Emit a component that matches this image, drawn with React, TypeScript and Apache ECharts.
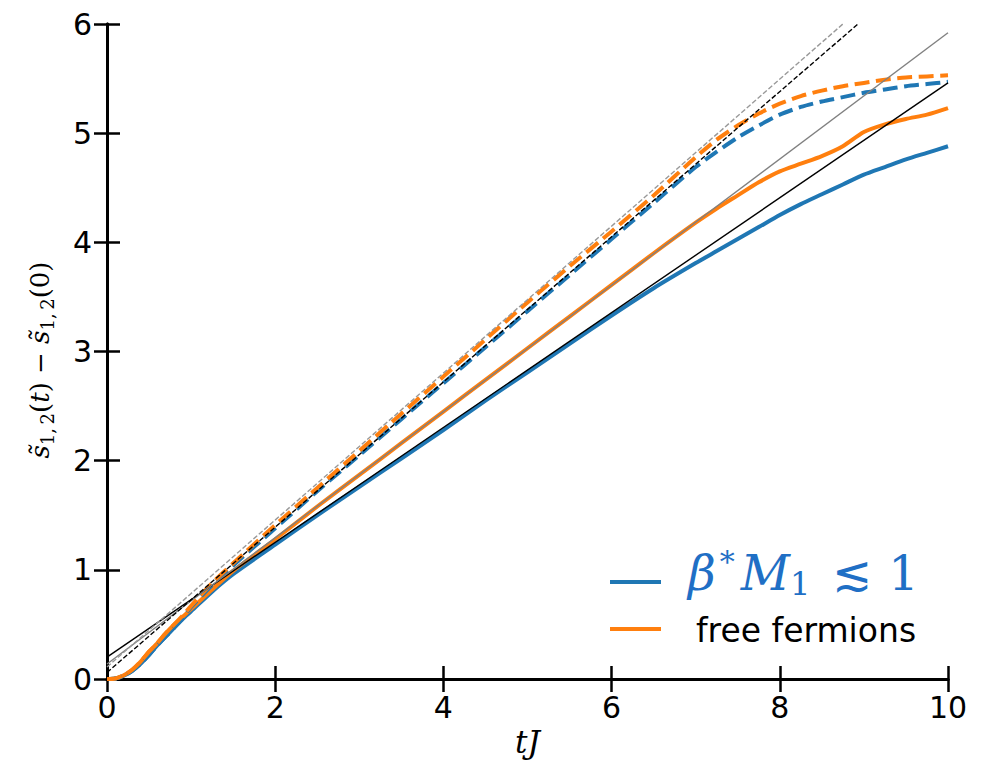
import React, { useEffect, useRef } from "react";
import * as echarts from "echarts";

// Time grid (tJ) shared by the four simulated curves
const tJ = [
  0, 0.1, 0.2, 0.3, 0.4, 0.5, 0.6, 0.7, 0.8, 0.9, 1.0, 1.25, 1.5, 2, 2.5, 3, 3.5, 4, 4.5, 5, 5.5, 6,
  6.5, 7, 7.25, 7.5, 7.75, 8, 8.25, 8.5, 8.75, 9, 9.25, 9.5, 9.75, 10,
];

// Solid curves
const blueSolid = [
  0, 0.005, 0.03, 0.075, 0.14, 0.22, 0.31, 0.39, 0.47, 0.55, 0.62, 0.8, 0.96, 1.23, 1.5, 1.76, 2.02,
  2.28, 2.55, 2.81, 3.07, 3.33, 3.58, 3.81, 3.92, 4.03, 4.14, 4.25, 4.35, 4.44, 4.53, 4.62, 4.69, 4.76,
  4.82, 4.88,
];
const orangeSolid = [
  0, 0.005, 0.035, 0.085, 0.16, 0.25, 0.33, 0.42, 0.5, 0.57, 0.64, 0.82, 0.99, 1.28, 1.58, 1.87, 2.16,
  2.45, 2.74, 3.03, 3.32, 3.61, 3.9, 4.18, 4.31, 4.43, 4.55, 4.65, 4.72, 4.79, 4.88, 5.01, 5.08, 5.13,
  5.17, 5.23,
];

// Dashed curves
const blueDashed = [
  0, 0.005, 0.03, 0.075, 0.14, 0.22, 0.31, 0.39, 0.47, 0.56, 0.66, 0.86, 1.04, 1.38, 1.72, 2.05, 2.38,
  2.71, 3.04, 3.37, 3.7, 4.03, 4.36, 4.69, 4.83, 4.96, 5.07, 5.17, 5.24, 5.29, 5.33, 5.37, 5.4, 5.43,
  5.45, 5.47,
];
const orangeDashed = [
  0, 0.005, 0.035, 0.085, 0.16, 0.25, 0.33, 0.42, 0.5, 0.58, 0.67, 0.88, 1.06, 1.41, 1.75, 2.09, 2.43,
  2.77, 3.11, 3.45, 3.78, 4.1, 4.43, 4.78, 4.94, 5.07, 5.18, 5.27, 5.34, 5.39, 5.43, 5.46, 5.49, 5.51,
  5.52, 5.53,
];

// Straight guide lines (end points)
const guideBlackSolid = [[0, 0.2], [10, 5.46]];
const guideGraySolid = [[0, 0.137], [10, 5.92]];
const guideBlackDashed = [[0, 0.06], [8.93, 6]];
const guideGrayDashed = [[0, 0.11], [8.75, 6]];

const C0 = "#1f77b4";
const C1 = "#ff7f0e";
const LEGEND_BLUE = "#1f6fc5";

function pairs(xs: number[], ys: number[]) {
  return xs.map((x, i) => [x, ys[i]]);
}

export default function App() {
  const ref = useRef<HTMLDivElement>(null);

  useEffect(() => {
    const chart = echarts.init(ref.current!, null, { renderer: "svg" });

    const axisLine = { show: true, lineStyle: { color: "#000", width: 3 } };
    const axisTick = { show: true, inside: true, length: 13, lineStyle: { color: "#000", width: 2.5 } };
    const tickFont = { fontFamily: "DejaVu Sans", fontSize: 30, color: "#000" };
    const mathFont = "DejaVu Serif, Liberation Serif, serif";

    const curve = (data: number[], color: string, dashed: boolean, z: number) => ({
      type: "line",
      data: pairs(tJ, data),
      showSymbol: false,
      smooth: 0.25,
      z,
      lineStyle: {
        color,
        width: 4,
        type: dashed ? [15, 6.5] : "solid",
        cap: "butt",
        join: "round",
      },
    });

    const guide = (data: number[][], color: string, dashed: boolean, z: number) => ({
      type: "line",
      data,
      showSymbol: false,
      z,
      lineStyle: { color, width: 1.4, type: dashed ? [5, 2.2] : "solid" },
    });

    const legendMath = (size: number) => ({ fontFamily: mathFont, fontSize: size, fill: LEGEND_BLUE });
    const labelMath = (size: number, italic: boolean) => ({
      fontFamily: mathFont,
      fontSize: size,
      fontStyle: italic ? "italic" : "normal",
      fill: "#000",
    });

    chart.setOption({
      animation: false,
      backgroundColor: "#fff",
      grid: {
        left: 107,
        right: 39,
        top: 24,
        bottom: 81,
        containLabel: false,
        outerBoundsMode: "none",
      },
      xAxis: [
        {
          type: "value",
          min: 0,
          max: 10,
          interval: 2,
          position: "bottom",
          axisLine,
          axisTick,
          splitLine: { show: false },
          axisLabel: { ...tickFont, margin: 13 },
          name: "{i|tJ}",
          nameLocation: "middle",
          nameGap: 41,
          nameTextStyle: {
            rich: {
              i: { fontFamily: mathFont, fontStyle: "italic", fontSize: 31, lineHeight: 31, color: "#000" },
            },
          },
        },
        {
          type: "value",
          min: 0,
          max: 10,
          interval: 2,
          position: "top",
          axisLine,
          axisTick,
          splitLine: { show: false },
          axisLabel: { show: false },
        },
      ],
      yAxis: [
        {
          type: "value",
          min: 0,
          max: 6,
          interval: 1,
          position: "left",
          axisLine,
          axisTick,
          splitLine: { show: false },
          axisLabel: { ...tickFont, margin: 15 },
        },
        {
          type: "value",
          min: 0,
          max: 6,
          interval: 1,
          position: "right",
          axisLine,
          axisTick,
          splitLine: { show: false },
          axisLabel: { show: false },
        },
      ],
      series: [
        curve(blueSolid, C0, false, 2),
        curve(orangeSolid, C1, false, 3),
        curve(blueDashed, C0, true, 4),
        curve(orangeDashed, C1, true, 5),
        guide(guideBlackSolid, "#000", false, 6),
        guide(guideGraySolid, "#808080", false, 6),
        guide(guideBlackDashed, "#000", true, 6),
        guide(guideGrayDashed, "#999", true, 6),
      ],
      graphic: [
        // y-axis title, rotated to read bottom-to-top
        {
          type: "text",
          x: 40,
          y: 360,
          rotation: Math.PI / 2,
          style: {
            text: "{s|s\u0303}{sub|1,\u20092}{n|(}{i|t}{n|) \u2212 }{s|s\u0303}{sub|1,\u20092}{n|(0)}",
            align: "center",
            verticalAlign: "middle",
            rich: {
              s: { ...labelMath(26, true), lineHeight: 32 },
              i: { ...labelMath(26, true), lineHeight: 32 },
              n: { ...labelMath(26, false), lineHeight: 32 },
              sub: { ...labelMath(18, false), lineHeight: 13, verticalAlign: "bottom" },
            },
          },
        },
        {
          type: "line",
          shape: { x1: 610, y1: 582, x2: 661, y2: 582 },
          style: { stroke: C0, lineWidth: 4 },
        },
        {
          type: "line",
          shape: { x1: 610, y1: 629, x2: 661, y2: 629 },
          style: { stroke: C1, lineWidth: 4 },
        },
        {
          type: "text",
          x: 688,
          y: 573,
          style: {
            text: "{g|\u03b2}{sup|*}{m|M}{sub|1}{le|\u2272}{one|1}",
            verticalAlign: "middle",
            rich: {
              g: { ...legendMath(48), fontStyle: "italic", lineHeight: 54 },
              sup: { ...legendMath(30), lineHeight: 22, verticalAlign: "top", padding: [0, 0, 0, 4] },
              m: { ...legendMath(48), fontStyle: "italic", lineHeight: 54, padding: [0, 0, 0, 6] },
              sub: { ...legendMath(32), lineHeight: 22, verticalAlign: "bottom" },
              le: { ...legendMath(48), lineHeight: 54, padding: [0, 0, 0, 22] },
              one: { ...legendMath(48), lineHeight: 54, padding: [0, 0, 0, 16] },
            },
          },
        },
        {
          type: "text",
          x: 696,
          y: 630,
          style: {
            text: "free fermions",
            fontFamily: "DejaVu Sans",
            fontSize: 33,
            fill: "#000",
            verticalAlign: "middle",
          },
        },
      ],
    });

    return () => chart.dispose();
  }, []);

  return (
    <div
      ref={ref}
      style={{ position: "fixed", left: 0, top: 0, width: 987, height: 760, background: "#fff" }}
    />
  );
}
